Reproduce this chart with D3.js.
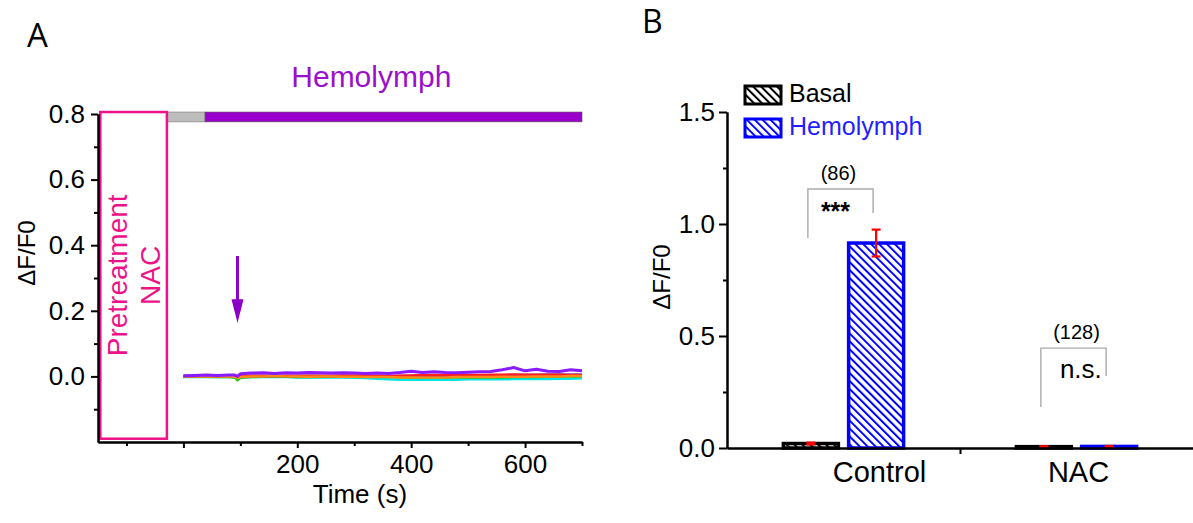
<!DOCTYPE html>
<html lang="en">
<head>
<meta charset="UTF-8">
<title>NAC pretreatment and hemolymph response</title>
<script src="https://d3js.org/d3.v7.min.js"></script>
<style>
  body { margin: 0; background: #fff; }
  svg { font-family: "Liberation Sans", Arial, sans-serif; }
  .axis path, .axis line { stroke: #000; stroke-width: 2; }
  .axis text { font-family: "Liberation Sans", Arial, sans-serif; font-size: 26px; fill: #000; }
</style>
</head>
<body>
<div id="chart"></div>
<script>
// ---- Panel A: traces (time in s, dF/F0) ----
const times = [0, 20, 40, 60, 80, 90, 95, 100, 120, 140, 160, 180, 200, 220, 240, 260, 280, 300, 320,
  340, 360, 380, 400, 420, 440, 460, 480, 500, 520, 540, 560, 580, 600, 620, 640, 660, 680, 700];

const cyanTrace = [-0.002, -0.002, -0.002, -0.002, -0.002, -0.003, -0.006, -0.003, -0.002, -0.002, -0.002, -0.002, -0.003,
  -0.003, -0.003, -0.003, -0.003, -0.004, -0.005, -0.007, -0.009, -0.010, -0.010, -0.010, -0.010, -0.010, -0.010,
  -0.009, -0.009, -0.009, -0.009, -0.008, -0.008, -0.008, -0.008, -0.007, -0.007, -0.006];
const greenTrace = [-0.001, -0.001, -0.001, -0.002, -0.002, -0.003, -0.012, -0.004, -0.002, -0.001, -0.001, -0.001, -0.002,
  -0.002, -0.001, -0.001, -0.001, 0.000, 0.001, 0.000, -0.002, -0.003, -0.004, -0.004, -0.004, -0.004, -0.003,
  -0.003, -0.003, -0.003, -0.003, -0.002, -0.002, -0.002, -0.001, -0.001, 0.000, 0.000];
const blueTrace = [0.000, 0.001, 0.001, 0.001, 0.001, 0.001, -0.003, 0.001, 0.001, 0.001, 0.001, 0.001, 0.001,
  0.001, 0.001, 0.001, 0.001, 0.001, 0.000, 0.000, 0.000, 0.001, 0.001, 0.002, 0.002, 0.002, 0.002,
  0.003, 0.003, 0.003, 0.003, 0.004, 0.004, 0.004, 0.005, 0.005, 0.005, 0.005];
const redTrace = [0.001, 0.001, 0.001, 0.001, 0.001, 0.001, -0.002, 0.001, 0.002, 0.002, 0.002, 0.002, 0.002,
  0.002, 0.002, 0.002, 0.003, 0.003, 0.003, 0.002, 0.001, 0.002, 0.003, 0.004, 0.004, 0.004, 0.004,
  0.004, 0.004, 0.005, 0.005, 0.006, 0.005, 0.005, 0.005, 0.005, 0.004, 0.004];
const orangeTrace = [0.000, 0.000, 0.000, 0.000, 0.000, -0.001, -0.005, -0.002, 0.000, 0.000, 0.001, 0.000, 0.000,
  -0.001, 0.000, 0.000, -0.001, -0.001, -0.002, -0.002, -0.002, -0.003, -0.003, -0.003, -0.003, -0.003, -0.002,
  -0.002, -0.002, -0.002, -0.001, -0.001, -0.001, 0.000, 0.000, 0.000, 0.001, 0.001];
const purpleTrace = [0.002, 0.003, 0.004, 0.003, 0.004, 0.004, 0.000, 0.008, 0.010, 0.011, 0.009, 0.011, 0.010,
  0.012, 0.011, 0.010, 0.011, 0.010, 0.009, 0.010, 0.009, 0.012, 0.016, 0.012, 0.014, 0.012, 0.011,
  0.013, 0.014, 0.015, 0.020, 0.027, 0.017, 0.022, 0.016, 0.015, 0.020, 0.017];

const traceColors = ["#00e5e5", "#1fcc1f", "#1a1aa8", "#ff2020", "#ff8a1a", "#8a1aff"];
const traceValues = [cyanTrace, greenTrace, blueTrace, redTrace, orangeTrace, purpleTrace];

const yTicksA = [0, 0.2, 0.4, 0.6, 0.8];
const yMinorA = [-0.1, 0.1, 0.3, 0.5, 0.7];
const xTicksA = [0, 200, 400, 600];
const xMinorA = [-100, 100, 300, 500, 700];

// ---- Panel B: bars ----
const groups = ["Control", "NAC"];
const basalMeans = [0.02, 0.006];
const basalErr = [0.004, 0.002];
const hemoMeans = [0.915, 0.007];
const hemoErr = [0.06, 0.002];
const nLabels = ["(86)", "(128)"];
const sigLabels = ["***", "n.s."];
const bracketTop = [1.156, 0.446];
const bracketLeftEnd = [0.9375, 0.183];
const bracketRightEnd = [1.049, 0.321];
const yTicksB = [0, 0.5, 1.0, 1.5];
const yMinorB = [0.25, 0.75, 1.25];

const width = 1193, height = 523;
const svg = d3.select("#chart").append("svg")
  .attr("width", width)
  .attr("height", height);

// hatch patterns
const defs = svg.append("defs");
[["hatchBlack", "#000"], ["hatchBlue", "#0000ff"]].forEach(([id, c]) => {
  const p = defs.append("pattern")
    .attr("id", id)
    .attr("patternUnits", "userSpaceOnUse")
    .attr("width", 5.6).attr("height", 5.6)
    .attr("patternTransform", "rotate(-45)");
  p.append("rect").attr("width", 5.6).attr("height", 5.6).attr("fill", "#fff");
  p.append("line").attr("x1", 1).attr("y1", -1).attr("x2", 1).attr("y2", 7)
    .attr("stroke", c).attr("stroke-width", 2);
});

// ================= Panel A =================
const xA = d3.scaleLinear().domain([-150, 700]).range([98, 582]);
const yA = d3.scaleLinear().domain([-0.2, 0.8]).range([442, 114]);

const gA = svg.append("g");

gA.append("text")
  .attr("x", 27).attr("y", 47)
  .style("font-family", "'Open Sans', sans-serif")
  .style("font-size", "33px")
  .text("A");

// stimulus bars
gA.append("rect")
  .attr("x", xA(-29)).attr("y", yA(0.806))
  .attr("width", xA(38) - xA(-29)).attr("height", yA(0.776) - yA(0.806))
  .attr("fill", "#bdbdbd").attr("stroke", "#777").attr("stroke-width", 0.6);
gA.append("rect")
  .attr("x", xA(38)).attr("y", yA(0.806))
  .attr("width", xA(700) - xA(38)).attr("height", yA(0.776) - yA(0.806))
  .attr("fill", "#9900cc").attr("stroke", "#555").attr("stroke-width", 0.6);

gA.append("text")
  .attr("x", xA(330)).attr("y", yA(0.882))
  .attr("text-anchor", "middle")
  .attr("fill", "#9a10cc")
  .style("font-size", "30px")
  .text("Hemolymph");

// pretreatment box
gA.append("rect")
  .attr("x", xA(-146)).attr("y", yA(0.806))
  .attr("width", xA(-29) - xA(-146)).attr("height", yA(-0.19) - yA(0.806))
  .attr("fill", "none").attr("stroke", "#ee1289").attr("stroke-width", 2.5);

const boxMidY = (yA(0.806) + yA(-0.19)) / 2;
gA.append("text")
  .attr("transform", `translate(127,${boxMidY}) rotate(-90)`)
  .attr("text-anchor", "middle")
  .attr("fill", "#ee1289")
  .style("font-size", "28px")
  .text("Pretreatment");
gA.append("text")
  .attr("transform", `translate(160,${boxMidY}) rotate(-90)`)
  .attr("text-anchor", "middle")
  .attr("fill", "#ee1289")
  .style("font-size", "28px")
  .text("NAC");

// arrow
gA.append("line")
  .attr("x1", xA(95)).attr("x2", xA(95))
  .attr("y1", yA(0.367)).attr("y2", yA(0.23))
  .attr("stroke", "#8b00c9").attr("stroke-width", 3);
gA.append("path")
  .attr("d", `M${xA(95) - 6},${yA(0.235)} L${xA(95) + 6},${yA(0.235)} L${xA(95)},${yA(0.163)} Z`)
  .attr("fill", "#8b00c9");

// traces
const line = d3.line()
  .x((d, i) => xA(times[i]))
  .y(d => yA(d));
traceValues.forEach((vals, k) => {
  gA.append("path")
    .datum(vals)
    .attr("d", line)
    .attr("fill", "none")
    .attr("stroke", traceColors[k])
    .attr("stroke-width", k === 5 ? 3 : 2.5)
    .attr("stroke-linejoin", "round");
});

// axes
gA.append("g").attr("class", "axis")
  .attr("transform", "translate(98,0)")
  .call(d3.axisLeft(yA).tickValues(yMinorA).tickSize(4).tickSizeOuter(0).tickFormat(""));
gA.append("g").attr("class", "axis")
  .attr("transform", "translate(98,0)")
  .call(d3.axisLeft(yA).tickValues(yTicksA).tickSize(7).tickSizeOuter(0).tickPadding(6)
    .tickFormat(d3.format(".1f")));
gA.append("g").attr("class", "axis")
  .attr("transform", "translate(0,442)")
  .call(d3.axisBottom(xA).tickValues(xMinorA).tickSize(4).tickSizeOuter(0).tickFormat(""));
gA.append("g").attr("class", "axis")
  .attr("transform", "translate(0,442)")
  .call(d3.axisBottom(xA).tickValues(xTicksA).tickSize(6).tickSizeOuter(0).tickPadding(7)
    .tickFormat(d => d === 0 ? "" : d));

gA.append("text")
  .attr("x", xA(310)).attr("y", 503)
  .attr("text-anchor", "middle")
  .style("font-size", "26px")
  .text("Time (s)");
gA.append("text")
  .attr("transform", "translate(35,253) rotate(-90)")
  .attr("text-anchor", "middle")
  .style("font-size", "24px")
  .text("ΔF/F0");

// ================= Panel B =================
const xB = d3.scaleLinear().domain([0.5, 2.5]).range([727, 1193]);
const yB = d3.scaleLinear().domain([0, 1.5]).range([448, 112]);
const barOff = 0.14, barW = 0.236;

const gB = svg.append("g");

gB.append("text")
  .attr("x", 642).attr("y", 33)
  .style("font-family", "'Open Sans', sans-serif")
  .style("font-size", "32px")
  .text("B");

const series = [
  { name: "Basal", means: basalMeans, errs: basalErr, off: -barOff, stroke: "#000", fill: "url(#hatchBlack)", text: "#000" },
  { name: "Hemolymph", means: hemoMeans, errs: hemoErr, off: barOff, stroke: "#0000ff", fill: "url(#hatchBlue)", text: "#1f1fff" }
];

series.forEach(s => {
  gB.selectAll(null)
    .data(groups)
    .enter().append("rect")
    .attr("x", (d, i) => xB(i + 1 + s.off - barW / 2))
    .attr("width", xB(barW) - xB(0))
    .attr("y", (d, i) => yB(s.means[i]))
    .attr("height", (d, i) => yB(0) - yB(s.means[i]))
    .attr("fill", s.fill)
    .attr("stroke", s.stroke)
    .attr("stroke-width", 3.5);
});

// error bars
series.forEach(s => {
  groups.forEach((g, i) => {
    const cx = xB(i + 1 + s.off);
    const top = yB(s.means[i] + s.errs[i]), bot = yB(s.means[i] - s.errs[i]);
    gB.append("line").attr("x1", cx).attr("x2", cx).attr("y1", top).attr("y2", bot)
      .attr("stroke", "#ff0000").attr("stroke-width", 2.2);
    [top, bot].forEach(yv => {
      gB.append("line").attr("x1", cx - 4.5).attr("x2", cx + 4.5).attr("y1", yv).attr("y2", yv)
        .attr("stroke", "#ff0000").attr("stroke-width", 2.2);
    });
  });
});

// significance brackets
groups.forEach((g, i) => {
  const xl = xB(i + 1 - barOff) - 3, xr = xB(i + 1 + barOff) - 3;
  gB.append("path")
    .attr("d", `M${xl},${yB(bracketLeftEnd[i])} V${yB(bracketTop[i])} H${xr} V${yB(bracketRightEnd[i])}`)
    .attr("fill", "none").attr("stroke", "#aaa").attr("stroke-width", 1.4);
  gB.append("text")
    .attr("x", xB(i + 1) - (i === 0 ? 5 : 0)).attr("y", yB(bracketTop[i]) - 9)
    .attr("text-anchor", "middle")
    .style("font-size", "20px")
    .text(nLabels[i]);
  gB.append("text")
    .attr("x", xB(i + 1 - barOff) + (i === 0 ? 10 : 16))
    .attr("y", i === 0 ? yB(1.018) : yB(0.3125))
    .style("font-size", i === 0 ? "25px" : "26px")
    .style("font-weight", i === 0 ? "bold" : "normal")
    .text(sigLabels[i]);
});

// axes
gB.append("g").attr("class", "axis")
  .attr("transform", "translate(727,0)")
  .call(d3.axisLeft(yB).tickValues(yMinorB).tickSize(4).tickSizeOuter(0).tickFormat(""));
gB.append("g").attr("class", "axis")
  .attr("transform", "translate(727,0)")
  .call(d3.axisLeft(yB).tickValues(yTicksB).tickSize(8).tickSizeOuter(0).tickPadding(4)
    .tickFormat(d3.format(".1f")));
const xAxisB = gB.append("g").attr("class", "axis")
  .attr("transform", "translate(0,448)")
  .call(d3.axisBottom(xB).tickValues([1.5]).tickSize(6).tickSizeOuter(0).tickFormat(""));
xAxisB.select(".domain").style("stroke-width", 2.5);

gB.selectAll(null)
  .data(groups)
  .enter().append("text")
  .attr("x", (d, i) => xB(i + 1) + (i === 0 ? 36 : 2))
  .attr("y", 482)
  .attr("text-anchor", "middle")
  .style("font-size", "29px")
  .text(d => d);

gB.append("text")
  .attr("transform", "translate(670,277) rotate(-90)")
  .attr("text-anchor", "middle")
  .style("font-size", "24px")
  .text("ΔF/F0");

// legend
series.forEach((s, k) => {
  const y0 = 86 + k * 33;
  gB.append("rect")
    .attr("x", 745).attr("y", y0)
    .attr("width", 36).attr("height", 18)
    .attr("fill", s.fill).attr("stroke", s.stroke).attr("stroke-width", 3);
  gB.append("text")
    .attr("x", 789).attr("y", y0 + 16)
    .attr("fill", s.text)
    .style("font-size", "25px")
    .text(s.name);
});
</script>
</body>
</html>
